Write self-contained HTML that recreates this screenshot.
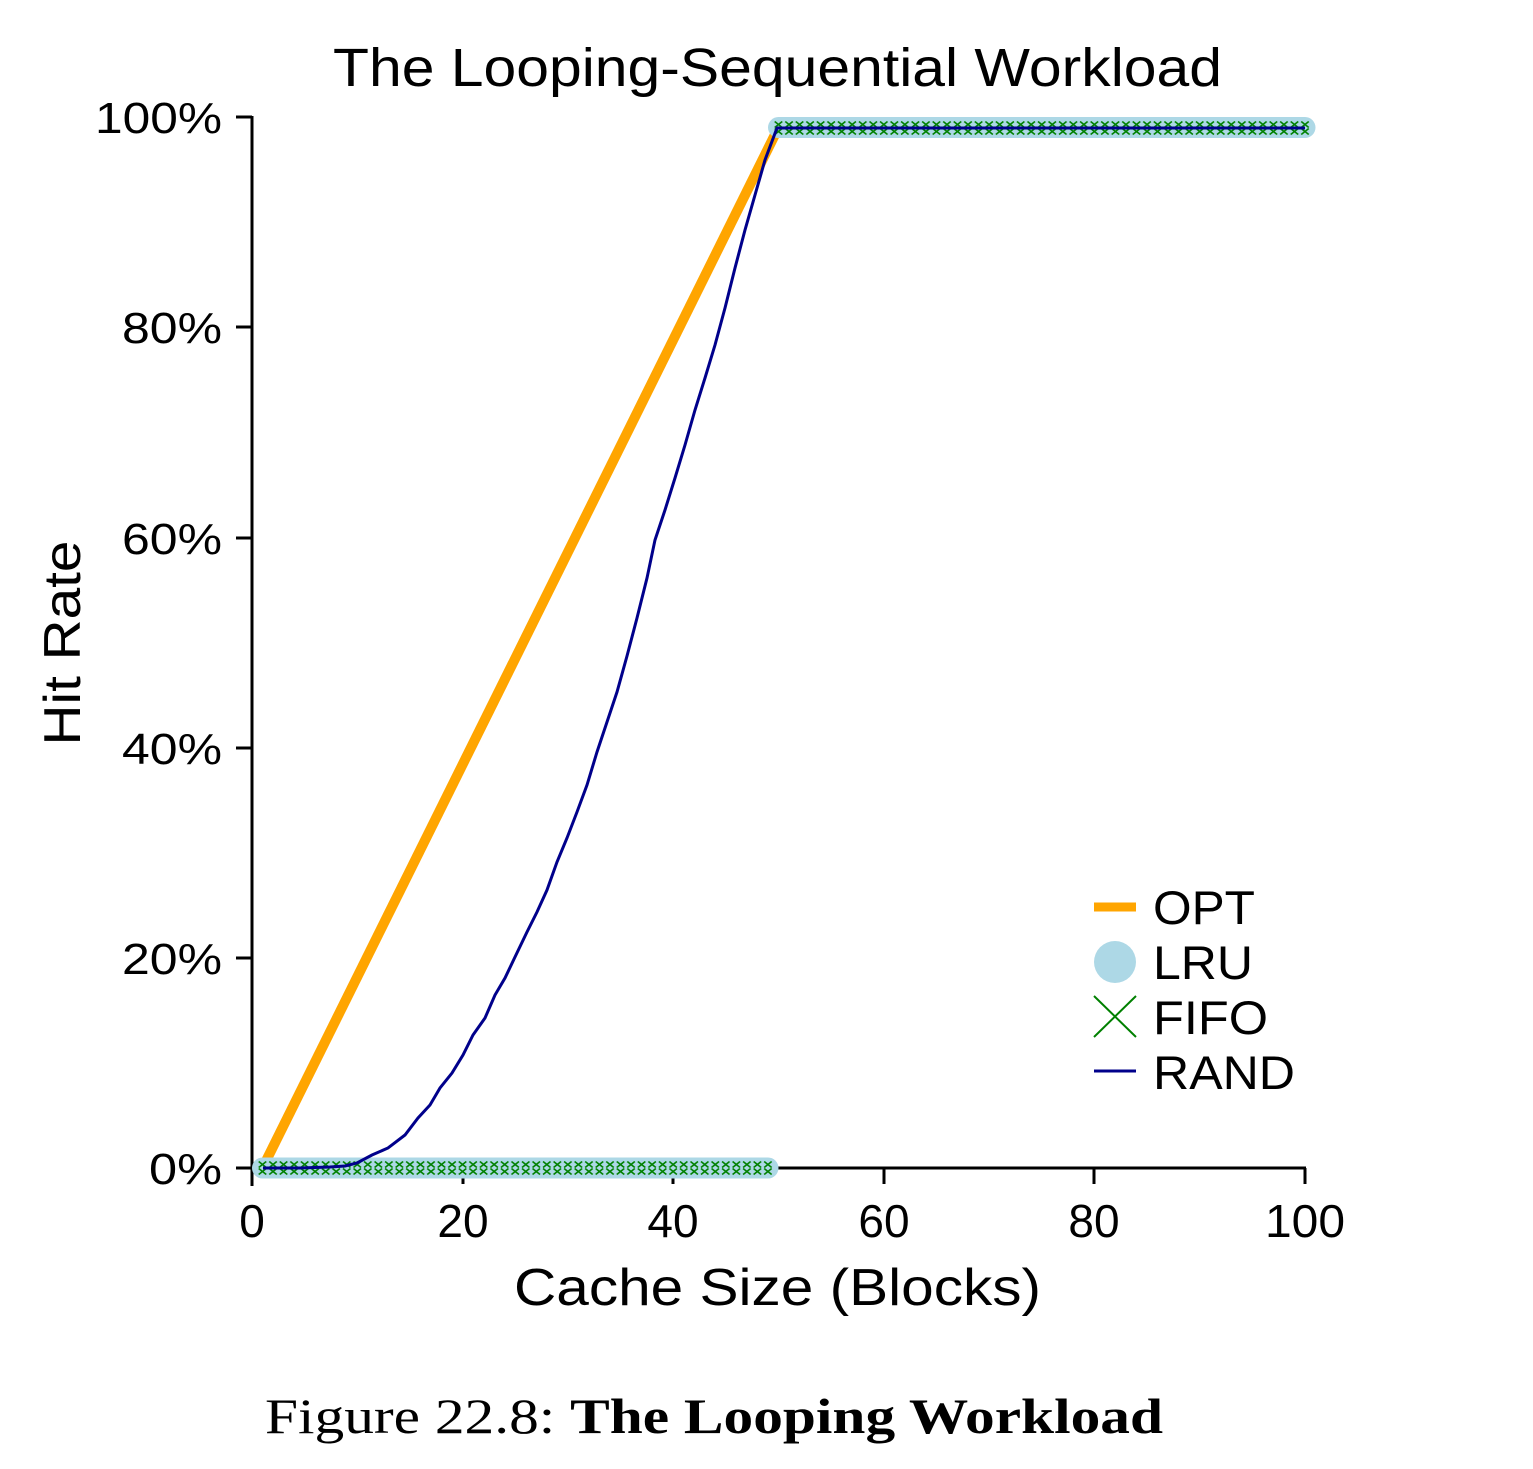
<!DOCTYPE html>
<html><head><meta charset="utf-8"><style>
html,body{margin:0;padding:0;background:#fff;}
svg{display:block;}
text{font-family:"Liberation Sans",sans-serif;fill:#000;}
</style></head><body>
<svg width="1533" height="1469" viewBox="0 0 1533 1469" xmlns="http://www.w3.org/2000/svg">
<defs>
<pattern id="xp" x="257.24" y="1160" width="10.53" height="16" patternUnits="userSpaceOnUse">
<path d="M1.5,1.5 L9,7.5 M9,1.5 L1.5,7.5 M1.5,8.5 L9,14.5 M9,8.5 L1.5,14.5" stroke="#008000" stroke-width="1.6" fill="none"/>
</pattern>
<pattern id="xp2" x="773.24" y="120" width="10.53" height="16" patternUnits="userSpaceOnUse">
<path d="M1.5,1.5 L9,7.5 M9,1.5 L1.5,7.5 M1.5,8.5 L9,14.5 M9,8.5 L1.5,14.5" stroke="#008000" stroke-width="1.6" fill="none"/>
</pattern>
</defs>
<text x="333" y="86" font-size="54" textLength="889" lengthAdjust="spacingAndGlyphs">The Looping-Sequential Workload</text>
<line x1="252" y1="116" x2="252" y2="1186" stroke="#000" stroke-width="3"/>
<line x1="251" y1="1168" x2="1306" y2="1168" stroke="#000" stroke-width="3"/>
<g stroke="#000" stroke-width="3">
<line x1="236" y1="117" x2="252" y2="117"/><line x1="236" y1="327" x2="252" y2="327"/>
<line x1="236" y1="538" x2="252" y2="538"/><line x1="236" y1="748" x2="252" y2="748"/>
<line x1="236" y1="958" x2="252" y2="958"/><line x1="236" y1="1168" x2="252" y2="1168"/>
<line x1="463" y1="1168" x2="463" y2="1184"/><line x1="673" y1="1168" x2="673" y2="1184"/>
<line x1="884" y1="1168" x2="884" y2="1184"/><line x1="1094" y1="1168" x2="1094" y2="1184"/>
<line x1="1305" y1="1168" x2="1305" y2="1184"/>
</g>
<g font-size="44">
<text x="95" y="133" textLength="127" lengthAdjust="spacingAndGlyphs">100%</text>
<text x="122" y="343" textLength="100" lengthAdjust="spacingAndGlyphs">80%</text>
<text x="122" y="554" textLength="100" lengthAdjust="spacingAndGlyphs">60%</text>
<text x="122" y="764" textLength="100" lengthAdjust="spacingAndGlyphs">40%</text>
<text x="122" y="974" textLength="100" lengthAdjust="spacingAndGlyphs">20%</text>
<text x="149" y="1184" textLength="73" lengthAdjust="spacingAndGlyphs">0%</text>
</g>
<g font-size="46" text-anchor="middle">
<text x="252" y="1237">0</text><text x="463" y="1237">20</text><text x="673" y="1237">40</text>
<text x="884" y="1237">60</text><text x="1094" y="1237">80</text>
</g>
<text x="1265" y="1237" font-size="46" textLength="80" lengthAdjust="spacingAndGlyphs">100</text>
<text x="514" y="1305" font-size="52" textLength="527" lengthAdjust="spacingAndGlyphs">Cache Size (Blocks)</text>
<text transform="translate(80,643) rotate(-90)" font-size="52" text-anchor="middle" textLength="205" lengthAdjust="spacingAndGlyphs">Hit Rate</text>
<line x1="262.5" y1="1168" x2="778.5" y2="127.5" stroke="#FFA500" stroke-width="10"/>
<line x1="262.5" y1="1168" x2="768" y2="1168" stroke="#ADD8E6" stroke-width="21" stroke-linecap="round"/>
<line x1="778.5" y1="127.5" x2="1305" y2="127.5" stroke="#ADD8E6" stroke-width="21" stroke-linecap="round"/>
<rect x="257.24" y="1160" width="515" height="16" fill="url(#xp)"/>
<rect x="773.24" y="120" width="537" height="16" fill="url(#xp2)"/>
<polyline fill="none" stroke="#00008B" stroke-width="3" points="263,1168 300,1168 330,1167 345,1166 357,1163 372,1155 388,1148 405,1135 418,1118 430,1105 440,1088 452,1073 463,1055 473,1035 485,1018 495,995 505,978 515,957 527,932 537,912 547,890 557,862 567,838 577,812 587,785 597,752 607,722 617,692 627,656 637,618 647,578 655,540 665,510 675,478 685,445 695,410 705,378 715,345 725,308 735,268 745,230 755,195 765,160 777,128 1305,128"/>
<line x1="1094" y1="907" x2="1136" y2="907" stroke="#FFA500" stroke-width="9"/>
<circle cx="1115" cy="962" r="21" fill="#ADD8E6"/>
<path d="M1094,996 L1136,1037 M1136,996 L1094,1037" stroke="#008000" stroke-width="2"/>
<line x1="1094" y1="1071" x2="1136" y2="1071" stroke="#00008B" stroke-width="3"/>
<g font-size="47">
<text x="1153" y="924" textLength="102" lengthAdjust="spacingAndGlyphs">OPT</text>
<text x="1153" y="979" textLength="100" lengthAdjust="spacingAndGlyphs">LRU</text>
<text x="1153" y="1034" textLength="115" lengthAdjust="spacingAndGlyphs">FIFO</text>
<text x="1153" y="1089" textLength="142" lengthAdjust="spacingAndGlyphs">RAND</text>
</g>
<text x="265" y="1433" font-size="50" style="font-family:'Liberation Serif',serif" textLength="898" lengthAdjust="spacingAndGlyphs">Figure 22.8: <tspan font-weight="bold">The Looping Workload</tspan></text>
</svg>
</body></html>
